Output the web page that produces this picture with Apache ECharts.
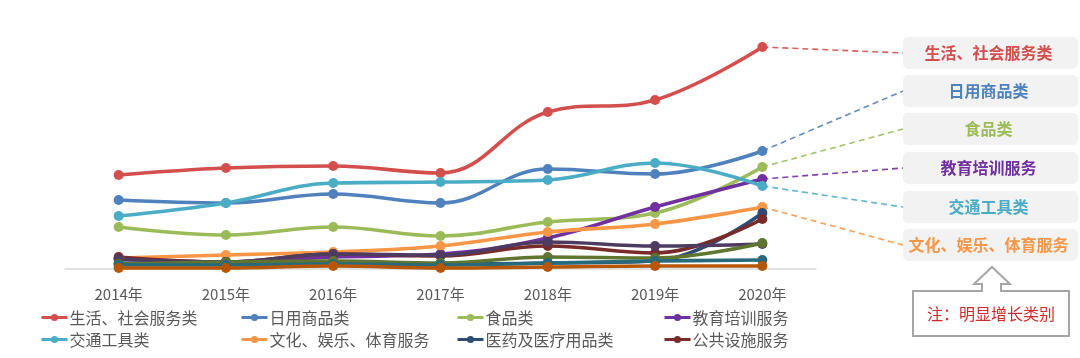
<!DOCTYPE html>
<html>
<head>
<meta charset="utf-8">
<script src="https://cdn.jsdelivr.net/npm/echarts@6/dist/echarts.min.js"></script>
<style>html,body{margin:0;padding:0;background:#fff;}#c{width:1080px;height:358px;}</style>
</head>
<body>
<div id="c"></div>
<script>
const categories = ['2014年','2015年','2016年','2017年','2018年','2019年','2020年'];
const seriesNames = ['生活、社会服务类','日用商品类','食品类','教育培训服务','交通工具类','文化、娱乐、体育服务','医药及医疗用品类','公共设施服务','其他类一','其他类二','其他类三','其他类四'];
const shengHuo = [94, 101, 103, 96, 157, 169, 222];
const riYong  = [69, 66, 75, 66, 100, 95, 118];
const shiPin  = [42, 34, 42, 33, 47, 56, 102];
const jiaoYu  = [10, 7, 12, 15, 31, 62, 90];
const jiaoTong = [53, 66, 86, 87, 89, 106, 83];
const wenHua  = [11, 14, 17, 23, 37, 45, 62];
const yiYao   = [6, 5, 7, 5, 6, 8, 56];
const gongGong = [12, 7, 15, 13, 23, 16, 50];
const other1  = [10, 7, 15, 14, 27, 23, 25];
const other2  = [5, 7, 8, 6, 12, 11, 26];
const other3  = [4, 4, 5, 4, 6, 8, 9];
const other4  = [1, 1, 3, 1, 2, 3, 3];
const highlighted = ['生活、社会服务类','日用商品类','食品类','教育培训服务','交通工具类','文化、娱乐、体育服务'];
const noteText = '注：明显增长类别';

const allData = [shengHuo, riYong, shiPin, jiaoYu, jiaoTong, wenHua, yiYao, gongGong, other1, other2, other3, other4];
const colors = ['#d24f4d','#4f81bd','#9bbb59','#7030a0','#4bacc6','#f79646','#2c4d75','#772c2a','#4d3b62','#5f7530','#276a7c','#b65708'];

// layout (pixels)
const boxLeft = 903, boxW = 175, boxH = 32;
const boxTops = [37, 75, 113, 152, 191, 229];
const FONT = '"Noto Sans CJK SC", sans-serif';

const series = allData.map((d, i) => {
  const s = {
    name: seriesNames[i],
    type: 'line',
    data: d,
    smooth: 0.4,
    symbol: 'circle',
    symbolSize: 10,
    lineStyle: { width: 3.6, color: colors[i] },
    itemStyle: { color: colors[i] },
    emphasis: { disabled: true },
    animation: false
  };
  const hi = highlighted.indexOf(seriesNames[i]);
  if (hi >= 0) {
    s.markLine = {
      silent: true,
      symbol: ['none', 'none'],
      label: { show: false },
      lineStyle: { type: [6, 4], width: 1.6, color: colors[i], opacity: 0.9 },
      animation: false,
      data: [[
        { xAxis: categories[categories.length - 1], yAxis: d[d.length - 1] },
        { x: boxLeft, y: boxTops[hi] + boxH / 2 }
      ]]
    };
  }
  return s;
});

const graphics = [];
highlighted.forEach((name, k) => {
  const idx = seriesNames.indexOf(name);
  graphics.push({
    type: 'rect', left: boxLeft, top: boxTops[k], z: 10,
    shape: { width: boxW, height: boxH, r: 5 },
    style: { fill: '#f2f2f2' }
  });
  graphics.push({
    type: 'text', x: boxLeft + boxW / 2 - 2, y: boxTops[k] + boxH / 2, z: 11,
    style: { text: name, fill: colors[idx], font: 'bold 16px ' + FONT, textAlign: 'center', textVerticalAlign: 'middle' }
  });
});
graphics.push({
  type: 'polygon', z: 10,
  shape: { points: [[913,291],[982,291],[982,284],[974,284],[992,267],[1010,284],[1001,284],[1001,291],[1069,291],[1069,336],[913,336]] },
  style: { fill: '#fff', stroke: '#a6a6a6', lineWidth: 2 }
});
graphics.push({
  type: 'text', x: 991, y: 314, z: 11,
  style: { text: noteText, fill: '#d22a2a', font: '16px ' + FONT, textAlign: 'center', textVerticalAlign: 'middle' }
});

const legendCols = [40, 240, 456, 663];
const legends = legendCols.map((x, c) => ({
  left: x, top: 309, orient: 'vertical', height: 48, padding: 0,
  data: [seriesNames[c], seriesNames[c + 4]],
  itemWidth: 26, itemHeight: 9, itemGap: 5,
  selectedMode: false,
  itemStyle: { borderWidth: 0 },
  lineStyle: { width: 3 },
  textStyle: { fontSize: 16, color: '#595959', fontFamily: FONT, lineHeight: 17, padding: [0, 0, 0, -3] }
}));

const chart = echarts.init(document.getElementById('c'), null, { renderer: 'canvas' });
chart.setOption({
  animation: false,
  color: colors,
  grid: { left: 65, right: 264, top: 29, bottom: 89 },
  xAxis: {
    type: 'category', data: categories, boundaryGap: true,
    axisLine: { lineStyle: { color: '#d9d9d9', width: 1.5 } },
    axisTick: { show: false },
    axisLabel: { color: '#595959', fontSize: 15, fontFamily: FONT, margin: 18 }
  },
  yAxis: { type: 'value', min: 0, max: 240, show: false, splitLine: { show: false } },
  legend: legends,
  series: series,
  graphic: graphics
});
</script>
</body>
</html>
